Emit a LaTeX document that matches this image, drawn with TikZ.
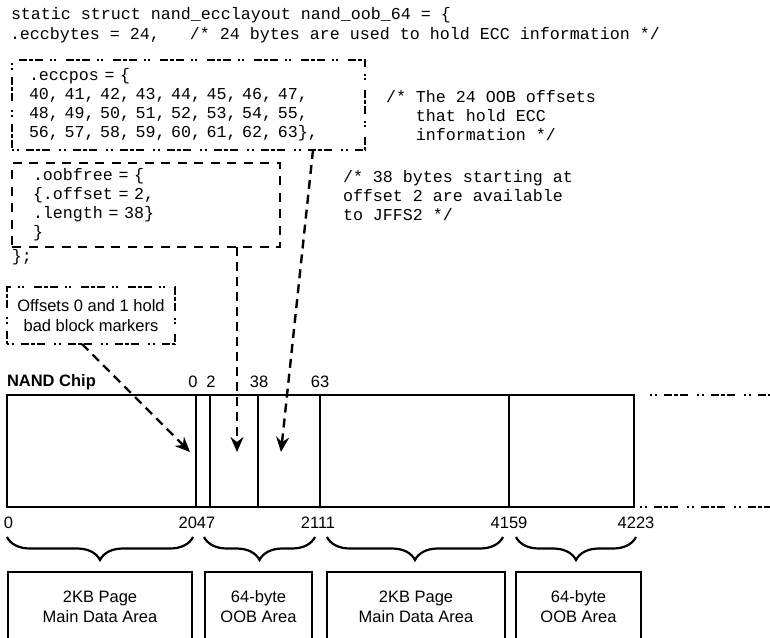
\documentclass[tikz,border=0pt]{standalone}
\usepackage{fontspec}
\setmainfont{Liberation Sans}
\setmonofont{Liberation Mono}
\usetikzlibrary{arrows.meta,decorations.pathreplacing}

\begin{document}
\begin{tikzpicture}[x=1pt,y=-1pt,
    code/.style={font=\fontsize{16.66}{19}\selectfont\ttfamily,inner sep=0pt,
        outer sep=0pt,align=left},
    code line/.style={code,text height=11pt,text depth=3pt,anchor=west},
    sans text/.style={font=\fontsize{16.5}{20}\selectfont,inner sep=0pt,
        outer sep=0pt,align=center},
    dotdash line/.style={line width=2.5pt,dash pattern=on 2pt off 2.5pt on 2pt
        off 7pt on 8pt off 2pt on 4pt off 2pt on 8pt off 9.5pt},
    ecc box/.style={code,draw,dotdash line,rectangle,inner xsep=17pt,
        minimum height=90pt,text width=319pt},
    free box/.style={code,draw,line width=2.5pt,dash pattern=on 9pt off 7.5pt,
        rectangle,inner xsep=21pt,minimum height=84pt,text width=226pt},
    note box/.style={sans text,draw,dotdash line,rectangle,minimum width=168pt,
        minimum height=57pt},
    chip box/.style={draw,line width=2.3pt,rectangle,outer sep=0pt,
        minimum width=627pt,minimum height=112pt},
    chip line/.style={line width=2.3pt},
    num label/.style={sans text},
    ptr arrow/.style={line width=2.4pt,dash pattern=on 9pt off 6pt,
        -{Stealth[length=15pt,width=13pt,inset=5pt]}},
    area brace/.style={line width=2.2pt,decorate,
        decoration={brace,amplitude=23pt,mirror}},
    area box/.style={sans text,draw,line width=2.3pt,rectangle,minimum height=70pt}
]
    \useasboundingbox (0,0) rectangle (770,637);
    \clip (0,0) rectangle (770,637);

    % the struct source
    \node[code line] (head) at (11,15) {static struct nand\_ecclayout nand\_oob\_64 = \{};
    \node[code line] (eccbytes) at (10,35)
        {.eccbytes = 24,\ \ \ /* 24 bytes are used to hold ECC information */};
    \node[ecc box] (eccpos) at (188.5,105) {.eccpos = \{\\
        40, 41, 42, 43, 44, 45, 46, 47,\\
        48, 49, 50, 51, 52, 53, 54, 55,\\
        56, 57, 58, 59, 60, 61, 62, 63\},};
    \node[code,anchor=west] (ecc-note) at (386,116) {/* The 24 OOB offsets\\
        \hphantom{/*\ }that hold ECC\\
        \hphantom{/*\ }information */};
    \node[free box] (oobfree) at (146,205) {.oobfree = \{\\
        \{.offset = 2,\\
        .length = 38\}\\
        \}};
    \node[code,anchor=west] (free-note) at (343,196) {/* 38 bytes starting at\\
        offset 2 are available\\
        to JFFS2 */};
    \node[code line] (close) at (12,257) {\};};

    \node[note box] (badblk) at (91,315.5) {Offsets 0 and 1 hold\\bad block markers};

    % the chip
    \node[sans text,font=\fontsize{16.5}{20}\selectfont\bfseries,anchor=west]
        (chip-title) at (7,382) {NAND Chip};
    \node[chip box] (chip) at (320.5,451) {};
    \foreach \x in {196,210,258,320,509} {
        \draw[chip line] (\x,395 |- chip.north) -- (\x,507 |- chip.south);
    }
    \coordinate (tail-top) at (770,395);
    \coordinate (tail-bottom) at (770,507);
    \draw[dotdash line,line width=2.2pt] ([xshift=16pt]chip.north east) -- (tail-top);
    \draw[dotdash line,line width=2.2pt] ([xshift=6pt]chip.south east) -- (tail-bottom);

    \foreach \x/\lab in {193/0,211/2,259/38,320/63} {
        \node[num label] (oob-\lab) at (\x,382) {\lab};
    }
    \foreach \x/\lab in {8.5/0,197/2047,318/2111,509/4159,636/4223} {
        \node[num label] (addr-\lab) at (\x,523) {\lab};
    }

    % pointers into the OOB area
    \coordinate (bad-tip) at (190,452);
    \coordinate (free-tip) at (237,452);
    \coordinate (ecc-tip) at (281,452);
    \draw[ptr arrow] ([xshift=75pt]badblk.south west) -- (bad-tip);
    \draw[ptr arrow] (oobfree.south -| free-tip) -- (free-tip);
    \draw[ptr arrow] ([xshift=-52pt]eccpos.south east) -- (ecc-tip);

    % page areas
    \foreach \a/\b in {7/193,204/315,327/503,516/636} {
        \draw[area brace] (\a,537) -- (\b,537);
    }
    \foreach \name/\x/\w/\lineA/\lineB in {page1/100/184/2KB Page/Main Data Area,
        oob1/258.5/107/64-byte/OOB Area,page2/416/178/2KB Page/Main Data Area,
        oob2/578.5/125/64-byte/OOB Area} {
        \node[area box,minimum width=\w pt] (\name) at (\x,607) {\lineA\\\lineB};
    }

\end{tikzpicture}
\end{document}
